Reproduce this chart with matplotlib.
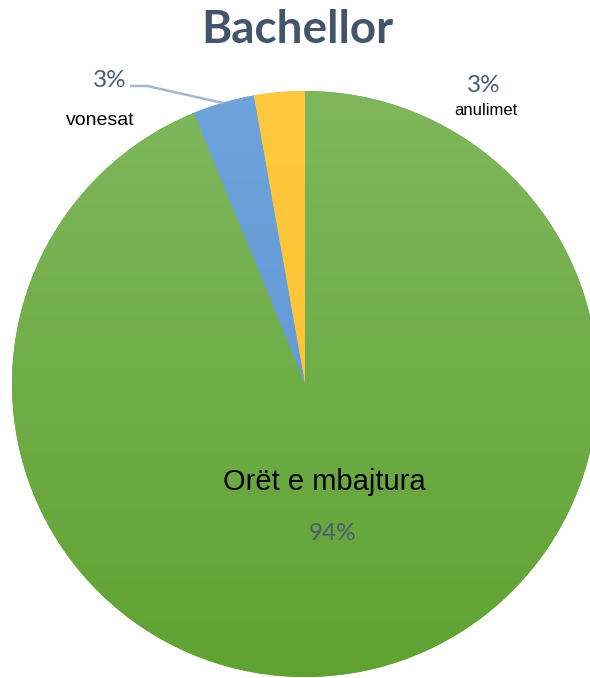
import numpy as np
import matplotlib
matplotlib.use("Agg")
import matplotlib.pyplot as plt
from matplotlib.colors import LinearSegmentedColormap

# ---- data ----
categories = ["anulimet", "vonesat", "Orët e mbajtura"]
values = [2.8, 3.4, 93.8]
pct_labels = ["3%", "3%", "94%"]
title = "Bachellor"

# ---- styles ----
grad_colors = [("#FFC83E", "#FCC02E"), ("#6EA3DC", "#5A93D3"), ("#80B75D", "#60A232")]
title_color = "#44546A"
pct_color = "#4A5A72"

W, H = 590, 678
fig = plt.figure(figsize=(W / 100, H / 100), dpi=100)
cx, cy, r = 305, 384, 293
ax = fig.add_axes([(cx - r) / W, (H - cy - r) / H, 2 * r / W, 2 * r / H])

wedges, _ = ax.pie(values, startangle=90, counterclock=True, radius=1,
                   wedgeprops=dict(linewidth=0))
ax.set_aspect("auto")
ax.set_xlim(-1, 1)
ax.set_ylim(-1, 1)
ax.axis("off")

grad = np.linspace(1, 0, 256).reshape(-1, 1)
for w, (c_top, c_bot) in zip(wedges, grad_colors):
    w.set_facecolor(c_bot)
    cmap = LinearSegmentedColormap.from_list("g", [c_bot, c_top])
    im = ax.imshow(grad, cmap=cmap, extent=[-1, 1, -1, 1], aspect="auto",
                   interpolation="bicubic", zorder=w.get_zorder() + 0.1)
    im.set_clip_path(w)

ax.set_xlim(-1, 1)
ax.set_ylim(-1, 1)

def px(x, y):
    return (x - cx) / r, (cy - y) / r

# label layout (pixel positions -> data coords)
pct_font = dict(family=["Lato", "DejaVu Sans"], color=pct_color, fontsize=17.5)
name_font = dict(family=["Liberation Sans", "DejaVu Sans"], color="black")

# anulimet
ax.text(*px(484, 92), pct_labels[0], ha="center", va="baseline", **pct_font)
ax.text(*px(486, 115), categories[0], ha="center", va="baseline", fontsize=12, **name_font)
# vonesat
ax.text(*px(110, 87), pct_labels[1], ha="center", va="baseline", **pct_font)
ax.text(*px(100, 125), categories[1], ha="center", va="baseline", fontsize=14, **name_font)
lx, ly = zip(px(130, 86), px(147, 86), px(223, 103))
ax.plot(lx, ly, color="#A9B7CA", lw=1.8, solid_capstyle="butt", clip_on=False, zorder=5)
# main
ax.text(*px(324, 490), categories[2], ha="center", va="baseline", fontsize=21, **name_font)
ax.text(*px(333, 540), pct_labels[2], ha="center", va="baseline", **pct_font)

fig.text(297 / W, (H - 43) / H, title, ha="center", va="baseline",
         fontsize=33, fontweight="bold", color=title_color,
         family=["Lato", "DejaVu Sans"])

fig.savefig("out.png", dpi=100)
